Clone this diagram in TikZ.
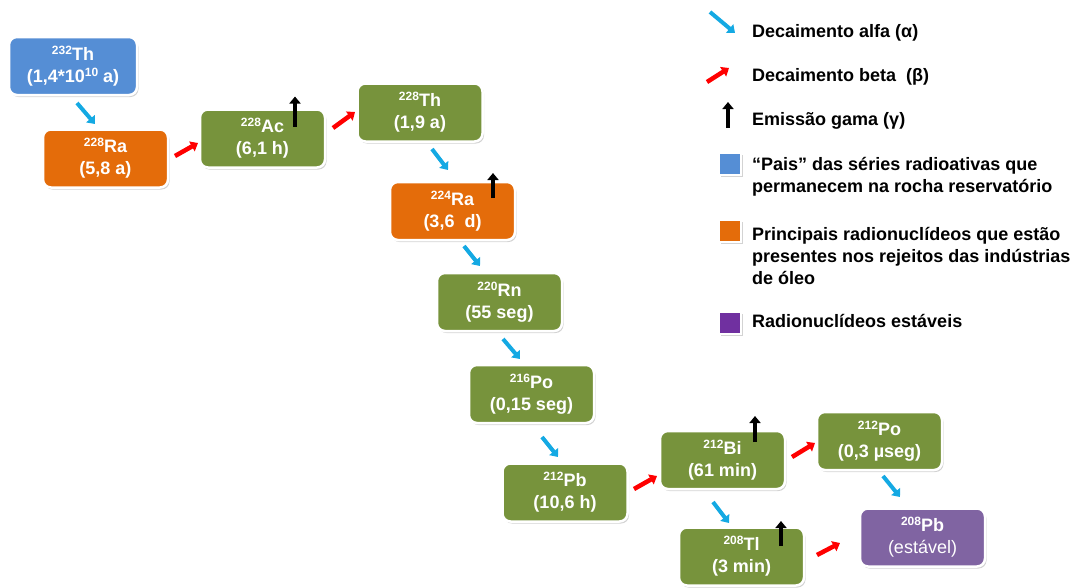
\documentclass[tikz,border=0pt]{standalone}
\usepackage{fontspec}
\setmainfont{Liberation Sans}
\usetikzlibrary{arrows.meta,shadows}

\definecolor{parentblue}{HTML}{558ED5}
\definecolor{wasteorange}{HTML}{E46C0A}
\definecolor{chaingreen}{HTML}{77933C}
\definecolor{stablepurple}{HTML}{8064A2}
\definecolor{keypurple}{HTML}{7030A0}
\definecolor{alphacyan}{HTML}{14A9E3}
\definecolor{betared}{HTML}{FF0000}

\newcommand\boxfont{\fontsize{18}{22}\selectfont\bfseries}
\newcommand\keyfont{\fontsize{18}{22}\selectfont\bfseries}
% mass number as a raised superscript before the element symbol
\newcommand\nuclide[2]{\raisebox{6pt}{\fontsize{12}{12}\selectfont #1}#2}
\newcommand\upsmall[1]{\raisebox{6pt}{\fontsize{12}{12}\selectfont #1}}

\tikzset{
  nuc/.style={rounded corners=8pt, draw=white, line width=2.5pt,
    minimum width=125pt, minimum height=58pt, inner sep=0pt,
    align=center, text=white, font=\boxfont,
    drop shadow={shadow xshift=1.5pt, shadow yshift=-2pt, opacity=0.35}},
  parent/.style={nuc, fill=parentblue},
  waste/.style={nuc, fill=wasteorange},
  chain/.style={nuc, fill=chaingreen},
  stable/.style={nuc, fill=stablepurple},
  alphaarrow/.style={draw=alphacyan, line width=4pt,
    -{Triangle[length=7pt,width=11pt]}},
  betaarrow/.style={draw=betared, line width=4.5pt,
    -{Triangle[length=7pt,width=11pt]}},
  gammaarrow/.style={draw=black, line width=4pt,
    -{Triangle[length=7pt,width=11pt]}},
  keysquare/.style={minimum size=22pt, inner sep=0pt, draw=white,
    line width=2pt, drop shadow={shadow xshift=1.5pt, shadow yshift=-2pt, opacity=0.35}},
  keytext/.style={font=\keyfont, text=black, inner sep=0pt, align=left},
}

\begin{document}
\begin{tikzpicture}[x=1pt,y=-1pt]
\useasboundingbox (0,0) rectangle (1084,587);

% decay chain of thorium-232
\node[parent, minimum width=128pt] (th232) at (73,66)    {\nuclide{232}{Th}\\(1,4*10\upsmall{10} a)};
\node[waste]  (ra228) at (105.5,158.5) {\nuclide{228}{Ra}\\(5,8 a)};
\node[chain]  (ac228) at (262.5,138.5) {\nuclide{228}{Ac}\\(6,1 h)};
\node[chain]  (th228) at (420,112.5)   {\nuclide{228}{Th}\\(1,9 a)};
\node[waste]  (ra224) at (452.5,211)   {\nuclide{224}{Ra}\\(3,6\ \ d)};
\node[chain]  (rn220) at (499.5,302)   {\nuclide{220}{Rn}\\(55 seg)};
\node[chain]  (po216) at (531.5,394)   {\nuclide{216}{Po}\\(0,15 seg)};
\node[chain]  (pb212) at (565,492.5)   {\nuclide{212}{Pb}\\(10,6 h)};
\node[chain]  (bi212) at (722.5,460)   {\nuclide{212}{Bi}\\(61 min)};
\node[chain]  (po212) at (879.5,441)   {\nuclide{212}{Po}\\(0,3 µseg)};
\node[chain]  (tl208) at (741.5,556.5) {\nuclide{208}{Tl}\\(3 min)};
\node[stable] (pb208) at (922.5,537.5) {\nuclide{208}{Pb}\\{\mdseries (estável)}};

% alpha decays
\draw[alphaarrow] ([shift={(4,37)}]th232.center)    -- ([shift={(-10.5,-34.5)}]ra228.center);
\draw[alphaarrow] ([shift={(12,36.5)}]th228.center) -- ([shift={(-4.5,-41)}]ra224.center);
\draw[alphaarrow] ([shift={(11.5,35)}]ra224.center) -- ([shift={(-19.5,-36)}]rn220.center);
\draw[alphaarrow] ([shift={(3.5,37)}]rn220.center)  -- ([shift={(-11.5,-35)}]po216.center);
\draw[alphaarrow] ([shift={(10.5,43)}]po216.center) -- ([shift={(-7,-35.5)}]pb212.center);
\draw[alphaarrow] ([shift={(-9.5,42)}]bi212.center) -- ([shift={(-12.5,-33.5)}]tl208.center);
\draw[alphaarrow] ([shift={(3.5,35)}]po212.center)  -- ([shift={(-22.5,-40.5)}]pb208.center);

% beta decays
\draw[betaarrow] ([shift={(69.5,-2.5)}]ra228.center) -- ([shift={(-64.5,4.5)}]ac228.center);
\draw[betaarrow] ([shift={(70.5,-10.5)}]ac228.center) -- ([shift={(-65,-0.5)}]th228.center);
\draw[betaarrow] ([shift={(69,-3.5)}]pb212.center)   -- ([shift={(-65.5,16)}]bi212.center);
\draw[betaarrow] ([shift={(69.5,-3)}]bi212.center)   -- ([shift={(-64.5,2)}]po212.center);
\draw[betaarrow] ([shift={(75.5,-1.5)}]tl208.center) -- ([shift={(-82.5,5.5)}]pb208.center);

% gamma emissions
\coordinate (ac228g) at ([shift={(32.5,-42)}]ac228.center);
\coordinate (ra224g) at ([shift={(40.5,-38)}]ra224.center);
\coordinate (bi212g) at ([shift={(32.5,-44)}]bi212.center);
\coordinate (tl208g) at ([shift={(39.5,-35.5)}]tl208.center);
\draw[gammaarrow] ([shift={(32.5,-12)}]ac228.center) -- (ac228g);
\draw[gammaarrow] ([shift={(40.5,-13)}]ra224.center) -- (ra224g);
\draw[gammaarrow] ([shift={(32.5,-18)}]bi212.center) -- (bi212g);
\draw[gammaarrow] ([shift={(39.5,-10.5)}]tl208.center) -- (tl208g);

% key
\coordinate (ka1) at (710,12);  \coordinate (ka2) at (735,33);
\coordinate (kb1) at (707,82);  \coordinate (kb2) at (729,68);
\coordinate (kg1) at (728,128); \coordinate (kg2) at (728,102);
\draw[alphaarrow] (ka1) -- (ka2);
\draw[betaarrow]  (kb1) -- (kb2);
\draw[gammaarrow] (kg1) -- (kg2);
\node[keytext, anchor=base west] (kalpha) at (752,37)  {Decaimento alfa (α)};
\node[keytext, anchor=base west] (kbeta)  at (752,81)  {Decaimento beta\ \ (β)};
\node[keytext, anchor=base west] (kgamma) at (752,125) {Emissão gama (γ)};

\node[keysquare, fill=parentblue]  (kblue)   at (730,164) {};
\node[keysquare, fill=wasteorange] (korange) at (730,231) {};
\node[keysquare, fill=keypurple]   (kpurple) at (730,322.5) {};
\node[keytext, anchor=north west] (kparent) at (752,154.6)
  {\strut“Pais” das séries radioativas que\\permanecem na rocha reservatório};
\node[keytext, anchor=north west] (kwaste) at (752,224.6)
  {\strut Principais radionuclídeos que estão\\presentes nos rejeitos das indústrias\\de óleo};
\node[keytext, anchor=base west] (kstable) at (752,327) {Radionuclídeos estáveis};
\end{tikzpicture}
\end{document}
